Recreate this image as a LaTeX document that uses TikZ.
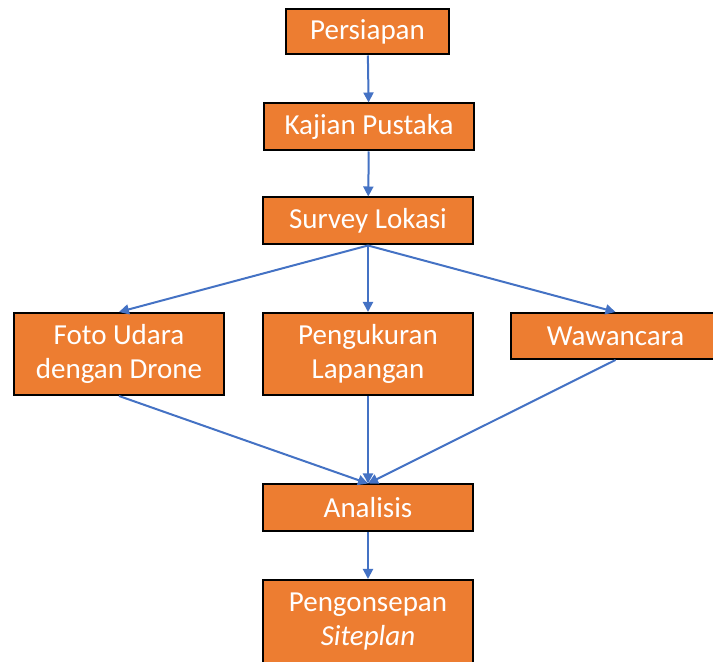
\documentclass[tikz,border=0pt]{standalone}
\usepackage{fontspec}
\setmainfont{Carlito}
\usepackage{xcolor}
\usetikzlibrary{arrows.meta}
\definecolor{boxorange}{HTML}{ED7D31}
\definecolor{flowblue}{HTML}{4472C4}

\begin{document}
\begin{tikzpicture}[x=0.5pt,y=-0.5pt,
  stepbox/.style={draw=black, line width=1pt, fill=boxorange, text=white,
    font=\fontsize{14.5}{17}\selectfont, align=center, inner sep=0pt,
    minimum width=105pt, minimum height=23.5pt},
  flow/.style={draw=flowblue, line width=1pt, -{Triangle[length=5pt,width=5pt]}}]
% Canvas (boxes at the right and bottom edge are cut off)
\clip (0,0) rectangle (713,662);

% Process steps
\node[stepbox, minimum width=81.5pt, minimum height=22.5pt] (persiapan) at (367.5,32) {Persiapan};
\node[stepbox] (kajian) at (369,127) {Kajian Pustaka};
\node[stepbox] (survey) at (368,221) {Survey Lokasi};

% Data collection
\node[stepbox, minimum height=41pt] (foto) at (119,354) {Foto Udara\\dengan Drone};
\node[stepbox, minimum height=41pt] (ukur) at (368,354) {Pengukuran\\Lapangan};
\node[stepbox, minimum height=23pt] (wawancara) at (615.5,336) {Wawancara};

% Result
\node[stepbox] (analisis) at (368,508) {Analisis};
\node[stepbox, minimum height=42pt] (konsep) at (368,622) {Pengonsepan\\\textit{Siteplan}};

% Connectors
\draw[flow] (persiapan) -- (kajian);
\draw[flow] (kajian) -- (survey);
\foreach \n in {foto, ukur, wawancara} {
  \draw[flow] (survey.south) -- (\n.north);
  \draw[flow] (\n.south) -- (analisis.north);
}
\draw[flow] (analisis) -- (konsep);

\end{tikzpicture}
\end{document}
